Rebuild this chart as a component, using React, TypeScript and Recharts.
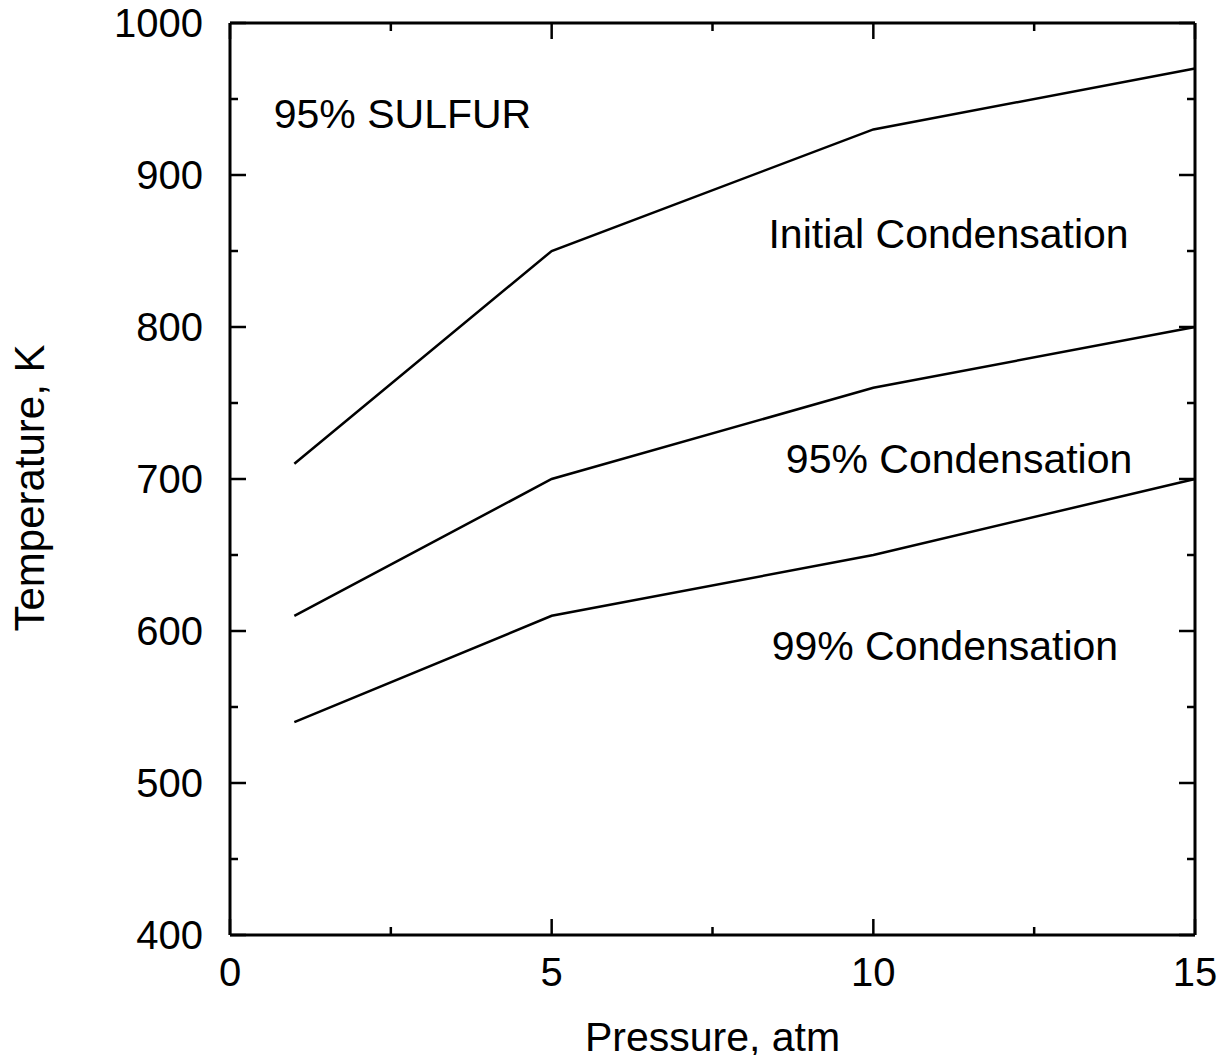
import React from 'react';
import { LineChart, Line, XAxis, YAxis, ReferenceDot } from 'recharts';

// pressure (atm) and condensation temperatures (K)
const pressures = [1, 5, 10, 15];
const initialCondensation = [710, 850, 930, 970];
const condensation95 = [610, 700, 760, 800];
const condensation99 = [540, 610, 650, 700];

const xTicks = [0, 2.5, 5, 7.5, 10, 12.5, 15];
const yTicks = [400, 450, 500, 550, 600, 650, 700, 750, 800, 850, 900, 950, 1000];

// text notes placed in data units (left end, baseline)
const notes = [
  { text: '95% SULFUR', x: 0.68, y: 931 },
  { text: 'Initial Condensation', x: 8.37, y: 852 },
  { text: '95% Condensation', x: 8.64, y: 704 },
  { text: '99% Condensation', x: 8.42, y: 581 },
];

const rows = pressures.map((p, i) => ({
  p,
  initial: initialCondensation[i],
  c95: condensation95[i],
  c99: condensation99[i],
}));

const FONT = '"Liberation Sans", Arial, Helvetica, sans-serif';
const MAJOR = 16;
const MINOR = 8;

// tick line drawn inward from the frame; label only on bottom/left majors
const XTick = (props: any) => {
  const { x, y, payload, side } = props;
  const v = payload.value;
  const major = v % 5 === 0;
  const dir = side === 'bottom' ? -1 : 1;
  return (
    <g>
      <line x1={x} y1={y} x2={x} y2={y + dir * (major ? MAJOR : MINOR)} stroke="#000" strokeWidth={2.5} />
      {side === 'bottom' && major && (
        <text x={x} y={y + 51} textAnchor="middle" fontSize={40} fontFamily={FONT} fill="#000">
          {v}
        </text>
      )}
    </g>
  );
};

const YTick = (props: any) => {
  const { x, y, payload, side } = props;
  const v = payload.value;
  const major = v % 100 === 0;
  const dir = side === 'left' ? 1 : -1;
  return (
    <g>
      <line x1={x} y1={y} x2={x + dir * (major ? MAJOR : MINOR)} y2={y} stroke="#000" strokeWidth={2.5} />
      {side === 'left' && major && (
        <text x={x - 27} y={y + 14} textAnchor="end" fontSize={40} fontFamily={FONT} fill="#000">
          {v}
        </text>
      )}
    </g>
  );
};

const NoteLabel = (text: string) => (props: any) => {
  const { viewBox } = props;
  return (
    <text x={viewBox.x} y={viewBox.y} fontSize={41} fontFamily={FONT} fill="#000">
      {text}
    </text>
  );
};

export default function App() {
  // negative margin cancels the body margin so the chart fills the page
  return (
    <div style={{ width: 1230, height: 1063, margin: -8, background: '#fff' }}>
      <LineChart width={1230} height={1063} data={rows} margin={{ top: 22, right: 34, bottom: 0, left: 0 }}>
        <XAxis
          xAxisId="bottom"
          dataKey="p"
          type="number"
          domain={[0, 15]}
          ticks={xTicks}
          interval={0}
          height={128}
          tickSize={0}
          tickMargin={0}
          tickLine={false}
          axisLine={{ stroke: '#000', strokeWidth: 3 }}
          tick={<XTick side="bottom" />}
          label={{
            value: 'Pressure, atm',
            position: 'insideBottom',
            offset: 12,
            style: { fontSize: 41, fontFamily: FONT, fill: '#000' },
          }}
        />
        <XAxis
          xAxisId="top"
          orientation="top"
          dataKey="p"
          type="number"
          domain={[0, 15]}
          ticks={xTicks}
          interval={0}
          height={1}
          tickSize={0}
          tickMargin={0}
          tickLine={false}
          axisLine={{ stroke: '#000', strokeWidth: 3 }}
          tick={<XTick side="top" />}
        />
        <YAxis
          yAxisId="left"
          type="number"
          domain={[400, 1000]}
          ticks={yTicks}
          interval={0}
          width={230}
          tickSize={0}
          tickMargin={0}
          tickLine={false}
          axisLine={{ stroke: '#000', strokeWidth: 3 }}
          tick={<YTick side="left" />}
          label={(p: any) => {
            const vb = p.viewBox;
            const cx = 29;
            const cy = vb.y + vb.height / 2 + 9;
            return (
              <text
                x={cx}
                y={cy}
                transform={`rotate(-90 ${cx} ${cy})`}
                textAnchor="middle"
                dominantBaseline="central"
                fontSize={42}
                fontFamily={FONT}
                fill="#000"
              >
                Temperature, K
              </text>
            );
          }}
        />
        <YAxis
          yAxisId="right"
          orientation="right"
          type="number"
          domain={[400, 1000]}
          ticks={yTicks}
          interval={0}
          width={1}
          tickSize={0}
          tickMargin={0}
          tickLine={false}
          axisLine={{ stroke: '#000', strokeWidth: 3 }}
          tick={<YTick side="right" />}
        />
        <Line xAxisId="bottom" yAxisId="left" dataKey="initial" stroke="#000" strokeWidth={2.5} dot={false} isAnimationActive={false} />
        <Line xAxisId="bottom" yAxisId="left" dataKey="c95" stroke="#000" strokeWidth={2.5} dot={false} isAnimationActive={false} />
        <Line xAxisId="bottom" yAxisId="left" dataKey="c99" stroke="#000" strokeWidth={2.5} dot={false} isAnimationActive={false} />
        <Line xAxisId="top" yAxisId="right" dataKey="c99" stroke="none" dot={false} activeDot={false} isAnimationActive={false} />
        {notes.map((n) => (
          <ReferenceDot
            key={n.text}
            xAxisId="bottom"
            yAxisId="left"
            x={n.x}
            y={n.y}
            r={0}
            fill="none"
            stroke="none"
            label={NoteLabel(n.text)}
          />
        ))}
      </LineChart>
    </div>
  );
}
